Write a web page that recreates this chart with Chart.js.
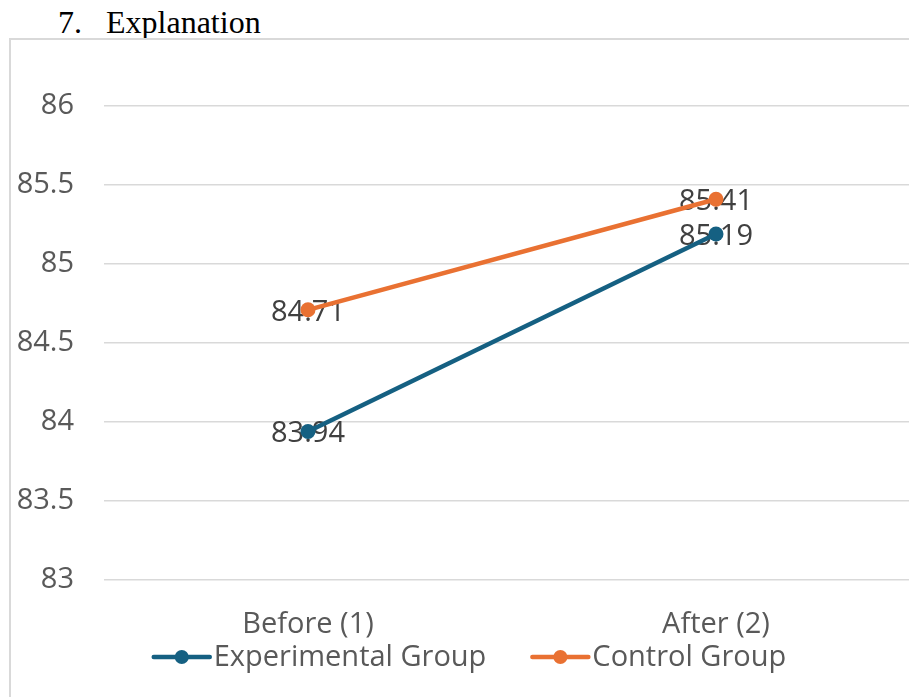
<!DOCTYPE html>
<html>
<head>
<meta charset="utf-8">
<script src="https://cdn.jsdelivr.net/npm/chart.js@4.4.1/dist/chart.umd.min.js"></script>
<style>
  html, body { margin: 0; padding: 0; background: #fff; overflow: hidden; width: 909px; height: 697px; }
  #heading {
    position: absolute; left: 58px; top: 6px;
    font-family: "Liberation Serif", "Times New Roman", serif;
    font-size: 32px; line-height: 32px; color: #000; white-space: nowrap;
  }
  #heading span { margin-left: 24px; }
  #frame {
    position: absolute; left: 9px; top: 38px; width: 980px; height: 720px;
    border: 2px solid #d9d9d9; box-sizing: border-box;
  }
  #plot { position: absolute; left: 0; top: 0; }
</style>
</head>
<body>
<div id="heading">7.<span>Explanation</span></div>
<div id="frame"></div>
<canvas id="plot" width="940" height="697"></canvas>
<script>
// Mean scores of the two groups, before and after
const categories = ['Before (1)', 'After (2)'];
const experimentalScores = [83.94, 85.19];
const controlScores = [84.71, 85.41];
const seriesNames = ['Experimental Group', 'Control Group'];
const seriesColors = ['#156082', '#E97132'];
const yTickLabels = ['83', '83.5', '84', '84.5', '85', '85.5', '86'];
const yMin = 83, yMax = 86, yStep = 0.5;

const FONT = '"Open Sans", "Liberation Sans", Arial, sans-serif';

// value labels sit centred on each marker, underneath the lines and markers
const pointLabels = {
  id: 'pointLabels',
  beforeDatasetsDraw(chart) {
    const ctx = chart.ctx;
    ctx.save();
    ctx.font = '29px ' + FONT;
    ctx.fillStyle = '#404040';
    ctx.textAlign = 'center';
    ctx.textBaseline = 'alphabetic';
    chart.data.datasets.forEach((ds, i) => {
      chart.getDatasetMeta(i).data.forEach((pt, j) => {
        ctx.fillText(ds.data[j].toFixed(2), pt.x, pt.y + 11);
      });
    });
    ctx.restore();
  }
};

// bottom legend: line-with-marker symbol followed by the series name
const lineLegend = {
  id: 'lineLegend',
  afterDraw(chart) {
    const ctx = chart.ctx;
    const symW = 56, gap = 4, itemGap = 46, centerX = 470, y = 657;
    ctx.save();
    ctx.font = '29px ' + FONT;
    const items = chart.data.datasets.map(ds => ({ ds, w: ctx.measureText(ds.label).width }));
    const total = items.reduce((s, it) => s + symW + gap + it.w, 0) + itemGap * (items.length - 1);
    let x = centerX - total / 2;
    items.forEach(it => {
      ctx.strokeStyle = it.ds.borderColor;
      ctx.lineWidth = 4.5;
      ctx.lineCap = 'round';
      ctx.beginPath();
      ctx.moveTo(x, y);
      ctx.lineTo(x + symW, y);
      ctx.stroke();
      ctx.fillStyle = it.ds.borderColor;
      ctx.beginPath();
      ctx.arc(x + symW / 2, y, 7, 0, Math.PI * 2);
      ctx.fill();
      ctx.fillStyle = '#595959';
      ctx.textAlign = 'left';
      ctx.textBaseline = 'alphabetic';
      ctx.fillText(it.ds.label, x + symW + gap, y + 9);
      x += symW + gap + it.w + itemGap;
    });
    ctx.restore();
  }
};

const makeSeries = (label, data, color) => ({
  label, data,
  borderColor: color, backgroundColor: color,
  borderWidth: 4.5,
  pointRadius: 7.5, pointHoverRadius: 7.5,
  pointBackgroundColor: color, pointBorderColor: color, pointBorderWidth: 0,
  tension: 0, fill: false
});

new Chart(document.getElementById('plot'), {
  type: 'line',
  data: {
    labels: categories,
    datasets: [
      makeSeries(seriesNames[0], experimentalScores, seriesColors[0]),
      makeSeries(seriesNames[1], controlScores, seriesColors[1])
    ]
  },
  options: {
    responsive: false,
    animation: false,
    devicePixelRatio: 1,
    layout: { padding: { top: 106, right: 20, bottom: 0, left: 0 } },
    plugins: { legend: { display: false }, tooltip: { enabled: false } },
    scales: {
      x: {
        offset: true,
        grid: { display: false, drawTicks: false },
        border: { display: false },
        ticks: { color: '#595959', font: { family: FONT, size: 29 }, padding: 27, maxRotation: 0 },
        afterFit(scale) { scale.height = 117; }
      },
      y: {
        min: yMin, max: yMax,
        grid: { color: '#d9d9d9', lineWidth: 1.5, drawTicks: false },
        border: { display: false },
        ticks: {
          stepSize: yStep, color: '#595959', font: { family: FONT, size: 29 }, padding: 30,
          callback: (value, index) => yTickLabels[index]
        },
        afterFit(scale) { scale.width = 104; }
      }
    }
  },
  plugins: [pointLabels, lineLegend]
});
</script>
</body>
</html>
